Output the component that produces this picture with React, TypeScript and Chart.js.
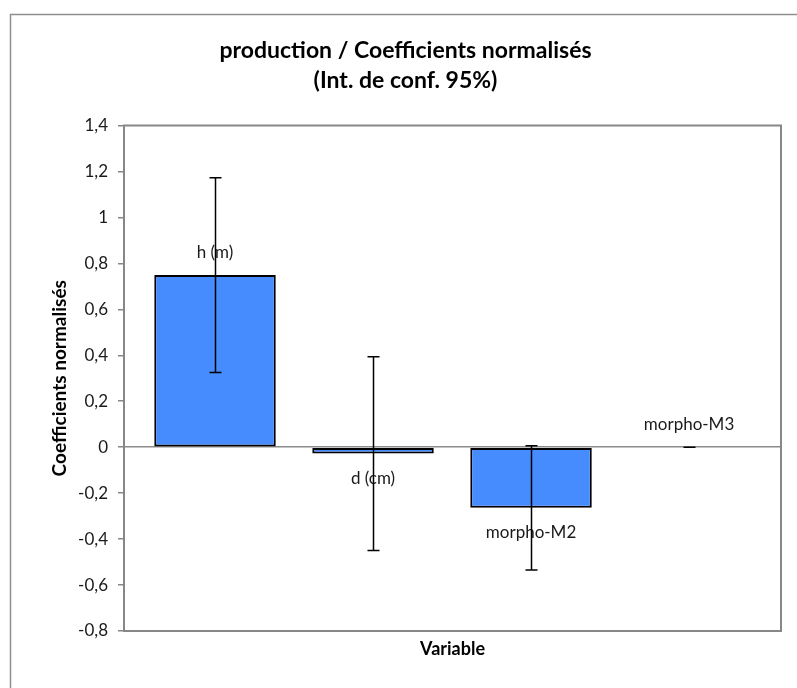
import React, { useEffect, useRef } from "react";
import { Chart, registerables } from "chart.js";

Chart.register(...registerables);

// ---- data ----
const categories = ["h (m)", "d (cm)", "morpho-M2", "morpho-M3"];
const coefficients = [0.749, -0.028, -0.264, 0.0];
const ciLower = [0.325, -0.45, -0.535, 0.0];
const ciUpper = [1.173, 0.394, 0.006, 0.0];
const yTickValues = [-0.8, -0.6, -0.4, -0.2, 0, 0.2, 0.4, 0.6, 0.8, 1, 1.2, 1.4];
const yTickLabels = ["-0,8", "-0,6", "-0,4", "-0,2", "0", "0,2", "0,4", "0,6", "0,8", "1", "1,2", "1,4"];
const titleLines = ["production / Coefficients normalisés", "(Int. de conf. 95%)"];
const yAxisTitle = "Coefficients normalisés";
const xAxisTitle = "Variable";

const FONT = "Lato, 'Open Sans', sans-serif";
const AXIS_GRAY = "#878787";

const decorPlugin = {
  id: "decor",
  beforeDraw(chart: any) {
    const ctx = chart.ctx;
    ctx.save();
    ctx.fillStyle = "#ffffff";
    ctx.fillRect(0, 0, chart.width, chart.height);
    ctx.strokeStyle = "#8f8f8f";
    ctx.lineWidth = 1.5;
    ctx.strokeRect(10.5, 14.5, chart.width + 20, chart.height + 20);
    ctx.restore();
  },
  beforeDatasetsDraw(chart: any) {
    const { ctx, chartArea } = chart;
    ctx.save();
    ctx.strokeStyle = AXIS_GRAY;
    ctx.lineWidth = 2;
    ctx.strokeRect(chartArea.left, chartArea.top, chartArea.right - chartArea.left, chartArea.bottom - chartArea.top);
    ctx.restore();
  },
  afterDatasetsDraw(chart: any) {
    const { ctx } = chart;
    const xs = chart.scales.x;
    const ys = chart.scales.y;
    ctx.save();
    // labels
    ctx.font = `17px ${FONT}`;
    ctx.fillStyle = "#1a1a1a";
    ctx.textAlign = "center";
    ctx.textBaseline = "middle";
    categories.forEach((c, i) => {
      const v = coefficients[i];
      const px = xs.getPixelForValue(i);
      const py = ys.getPixelForValue(v);
      const ly = v >= 0 ? py - 23 : py + 25;
      ctx.fillText(c, px, ly);
    });
    // error bars
    ctx.strokeStyle = "#000000";
    ctx.lineWidth = 1.5;
    categories.forEach((_, i) => {
      const px = Math.round(xs.getPixelForValue(i)) + 0.5;
      const yl = ys.getPixelForValue(ciLower[i]);
      const yu = ys.getPixelForValue(ciUpper[i]);
      ctx.beginPath();
      ctx.moveTo(px, yu);
      ctx.lineTo(px, yl);
      ctx.moveTo(px - 6, yu);
      ctx.lineTo(px + 6, yu);
      ctx.moveTo(px - 6, yl);
      ctx.lineTo(px + 6, yl);
      ctx.stroke();
    });
    ctx.restore();
  },
};

export default function App() {
  const ref = useRef<HTMLCanvasElement | null>(null);

  useEffect(() => {
    if (!ref.current) return;
    const chart = new Chart(ref.current, {
      type: "bar",
      data: {
        datasets: [
          {
            label: "Coefficients normalisés",
            data: coefficients.map((v, i) => ({ x: i, y: v })),
            backgroundColor: "#468cff",
            borderColor: "#000000",
            borderWidth: 2,
            borderSkipped: false,
            barPercentage: 0.769,
            categoryPercentage: 1,
          },
        ],
      },
      options: {
        animation: false,
        responsive: false,
        maintainAspectRatio: false,
        layout: { padding: { left: 30, right: 16, top: 0, bottom: 0 } },
        plugins: {
          legend: { display: false },
          tooltip: { enabled: false },
          title: {
            display: true,
            text: titleLines,
            color: "#000000",
            font: { family: FONT, size: 23, weight: "bold", lineHeight: "30px" },
            padding: { top: 36, bottom: 29.5 },
          },
        },
        scales: {
          x: {
            type: "linear",
            offset: false,
            bounds: "data",
            min: -0.576,
            max: 3.582,
            afterBuildTicks: (scale: any) => {
              scale.ticks = categories.map((_, i) => ({ value: i }));
            },
            grid: { display: false, offset: false },
            border: { display: false },
            ticks: { display: false },
            title: {
              display: true,
              text: xAxisTitle,
              color: "#000000",
              font: { family: FONT, size: 18, weight: "bold", lineHeight: "20px" },
              padding: { top: 0, bottom: 29 },
            },
            afterFit: (scale: any) => {
              scale.height = 57;
            },
          },
          y: {
            min: -0.8,
            max: 1.4,
            afterBuildTicks: (scale: any) => {
              scale.ticks = yTickValues.map((v) => ({ value: v }));
            },
            ticks: {
              color: "#1a1a1a",
              font: { family: FONT, size: 17 },
              padding: 10,
              callback: (value: any) => {
                const idx = yTickValues.findIndex((t) => Math.abs(t - Number(value)) < 1e-9);
                return idx >= 0 ? yTickLabels[idx] : "";
              },
            },
            grid: {
              drawOnChartArea: true,
              drawTicks: true,
              tickLength: 6,
              lineWidth: 1.5,
              color: (c: any) => (c.tick && Math.abs(c.tick.value) < 1e-9 ? "#8c8c8c" : "rgba(0,0,0,0)"),
              tickColor: AXIS_GRAY,
            },
            border: { display: false },
            title: {
              display: true,
              text: yAxisTitle,
              color: "#000000",
              font: { family: FONT, size: 19, weight: "bold", lineHeight: "22px" },
              padding: { top: 19, bottom: 0 },
            },
            afterFit: (scale: any) => {
              scale.width = 94;
            },
          },
        },
      },
      plugins: [decorPlugin],
    } as any);
    return () => chart.destroy();
  }, []);

  return (
    <div style={{ position: "fixed", left: 0, top: 0, width: 797, height: 688, background: "#fff" }}>
      <canvas ref={ref} width={797} height={688} style={{ display: "block", width: 797, height: 688 }} />
    </div>
  );
}
